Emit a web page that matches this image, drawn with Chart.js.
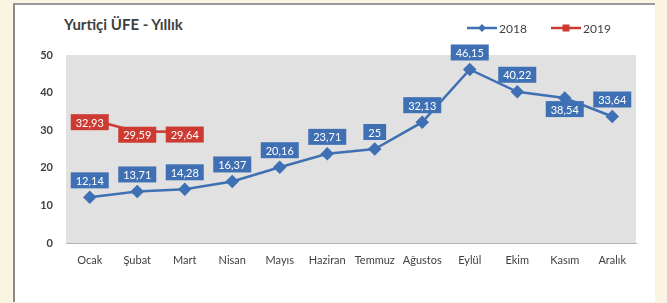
<!DOCTYPE html>
<html>
<head>
<meta charset="utf-8">
<script src="https://cdn.jsdelivr.net/npm/chart.js@4.4.0/dist/chart.umd.min.js"></script>
<style>
  html, body { margin: 0; padding: 0; background: #fcf4e3; }
  body { width: 667px; height: 303px; position: relative; overflow: hidden; }
  #card {
    position: absolute; left: 13px; top: 3px; width: 640px; height: 297px;
    background: #fff; border-left: 2px solid #8a8a8a; border-top: 2px solid #9a9a9a;
  }
  #title {
    position: absolute; left: 64px; top: 15px;
    font: bold 15px Lato, sans-serif; color: #404040;
  }
  canvas { position: absolute; left: 0; top: 0; }
</style>
</head>
<body>
<div id="card"></div>
<div id="title">Yurtiçi ÜFE - Yıllık</div>
<canvas id="chart" width="667" height="303"></canvas>
<script>
// Chart data
const months = ['Ocak', 'Şubat', 'Mart', 'Nisan', 'Mayıs', 'Haziran', 'Temmuz', 'Ağustos', 'Eylül', 'Ekim', 'Kasım', 'Aralık'];
const values2018 = [12.14, 13.71, 14.28, 16.37, 20.16, 23.71, 25, 32.13, 46.15, 40.22, 38.54, 33.64];
const values2019 = [32.93, 29.59, 29.64];
const yTicks = [0, 10, 20, 30, 40, 50];

const blue = '#3f70b4';
const red = '#cc3a32';
const font = 'Lato, sans-serif';

// Format like 12,14
const formatValue = (v) => String(v).replace('.', ',');

// Gray plot background
const plotBackground = {
  id: 'plotBackground',
  beforeDraw(chart) {
    const { ctx, chartArea } = chart;
    ctx.save();
    ctx.fillStyle = '#e1e1e1';
    ctx.fillRect(chartArea.left, chartArea.top, chartArea.right - chartArea.left, chartArea.bottom - chartArea.top);
    ctx.restore();
  }
};

// Value boxes on the points
const valueBoxes = {
  id: 'valueBoxes',
  afterDatasetsDraw(chart) {
    const ctx = chart.ctx;
    ctx.save();
    ctx.font = '11px ' + font;
    ctx.textAlign = 'center';
    ctx.textBaseline = 'middle';
    chart.data.datasets.forEach((ds, di) => {
      const meta = chart.getDatasetMeta(di);
      meta.data.forEach((pt, i) => {
        const text = formatValue(ds.data[i]);
        const w = ctx.measureText(text).width + 10;
        const h = 16;
        let cy = pt.y + 3;
        if (di === 0) cy = (i === 10) ? pt.y + 11 : pt.y - 17;
        ctx.fillStyle = ds.borderColor;
        ctx.fillRect(pt.x - w / 2, cy - h / 2, w, h);
        ctx.fillStyle = '#fff';
        ctx.fillText(text, pt.x, cy + 1);
      });
    });
    ctx.restore();
  }
};

// Legend: line with marker plus label
const lineLegend = {
  id: 'lineLegend',
  afterDraw(chart) {
    const ctx = chart.ctx;
    const items = [
      { x: 467, label: '2018', color: blue, marker: 'diamond' },
      { x: 551, label: '2019', color: red, marker: 'square' }
    ];
    const y = 28;
    ctx.save();
    items.forEach(it => {
      ctx.strokeStyle = it.color;
      ctx.lineWidth = 2.5;
      ctx.beginPath();
      ctx.moveTo(it.x, y);
      ctx.lineTo(it.x + 30, y);
      ctx.stroke();
      ctx.fillStyle = it.color;
      const cx = it.x + 15;
      if (it.marker === 'diamond') {
        ctx.beginPath();
        ctx.moveTo(cx, y - 4);
        ctx.lineTo(cx + 4, y);
        ctx.lineTo(cx, y + 4);
        ctx.lineTo(cx - 4, y);
        ctx.closePath();
        ctx.fill();
      } else {
        ctx.fillRect(cx - 3.5, y - 3.5, 7, 7);
      }
      ctx.fillStyle = '#404040';
      ctx.font = '12px ' + font;
      ctx.textBaseline = 'middle';
      ctx.fillText(it.label, it.x + 32, y + 1);
    });
    ctx.restore();
  }
};

new Chart(document.getElementById('chart'), {
  type: 'line',
  data: {
    labels: months,
    datasets: [
      {
        label: '2018',
        data: values2018,
        borderColor: blue,
        backgroundColor: blue,
        borderWidth: 2.5,
        pointStyle: 'rectRot',
        pointRadius: 5,
        pointHoverRadius: 5,
        tension: 0
      },
      {
        label: '2019',
        data: values2019,
        borderColor: red,
        backgroundColor: red,
        borderWidth: 2.5,
        pointStyle: 'rect',
        pointRadius: 4,
        pointHoverRadius: 4,
        tension: 0
      }
    ]
  },
  options: {
    responsive: false,
    animation: false,
    layout: { padding: { left: 20, right: 31, top: 55, bottom: 0 } },
    scales: {
      x: {
        offset: true,
        grid: { display: false, drawTicks: false },
        border: { display: true, color: '#b0b0b0', dash: [2, 2], width: 1 },
        ticks: { color: '#404040', font: { family: font, size: 11 }, padding: 11, maxRotation: 0, autoSkip: false },
        afterFit(axis) { axis.height = 60; }
      },
      y: {
        min: 0,
        max: 50,
        afterBuildTicks(axis) { axis.ticks = yTicks.map(v => ({ value: v })); },
        grid: { display: false, drawTicks: false },
        border: { display: false },
        ticks: { color: '#404040', font: { family: font, size: 11, weight: 'bold' }, padding: 13 },
        afterFit(axis) { axis.width = 46; }
      }
    },
    plugins: {
      legend: { display: false },
      tooltip: { enabled: false }
    }
  },
  plugins: [plotBackground, valueBoxes, lineLegend]
});
</script>
</body>
</html>
